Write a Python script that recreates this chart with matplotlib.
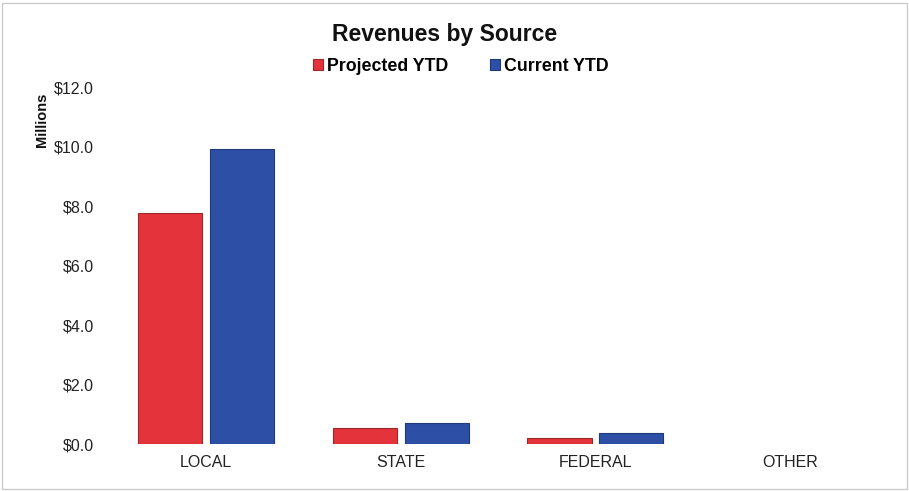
import matplotlib
matplotlib.use("Agg")
import matplotlib.pyplot as plt
import numpy as np
from matplotlib.patches import Rectangle

categories = ["LOCAL", "STATE", "FEDERAL", "OTHER"]
projected_ytd = [7.76, 0.54, 0.20, 0.0]
current_ytd = [9.92, 0.71, 0.37, 0.0]
yticks = [0, 2, 4, 6, 8, 10, 12]

plt.rcParams['font.family'] = ['Liberation Sans', 'DejaVu Sans']

fig = plt.figure(figsize=(9.09, 4.91), dpi=100)
ax = fig.add_axes([0.12, 0.0957, 0.856, 0.727])

x = np.arange(len(categories))
w = 0.33
red = "#E4333B"
blue = "#2D4FA6"
b1 = ax.bar(x - 0.185, projected_ytd, w, color=red, edgecolor="#9a2a2a", linewidth=0.8, label="Projected YTD")
b2 = ax.bar(x + 0.185, current_ytd, w, color=blue, edgecolor="#1f3a78", linewidth=0.8, label="Current YTD")
for p in list(b1) + list(b2):
    if p.get_height() == 0:
        p.set_visible(False)

ax.set_xlim(-0.5, 3.5)
ax.set_ylim(0, 12)
ax.set_yticks(yticks)
ax.set_yticklabels([f"${v:.1f}" for v in yticks], fontsize=11.5, color="#222222")
ax.set_xticks(x)
ax.set_xticklabels(categories, fontsize=11.5, color="#222222")
ax.tick_params(axis='x', length=0, pad=8)
ax.tick_params(axis='y', length=0, pad=11)
for s in ax.spines.values():
    s.set_visible(False)

fig.text(0.046, 0.756, "Millions", rotation=90, ha="center", va="center",
         fontsize=10.5, fontweight="bold", color="#111111")

fig.text(0.4895, 0.93, "Revenues by Source", ha="center", va="center",
         fontsize=16.5, fontweight="bold", color="#111111")

leg = ax.legend(loc="lower center", bbox_to_anchor=(0.452, 0.99), ncol=2, frameon=False,
                handlelength=0.55, handleheight=0.55, handletextpad=0.2,
                columnspacing=2.4, prop={'weight': 'bold', 'size': 12.8})

fig.patches.append(Rectangle((0.002, 0.004), 0.996, 0.99, transform=fig.transFigure,
                             fill=False, edgecolor="#cccccc", linewidth=1.0))

fig.savefig("out.png", dpi=100)
